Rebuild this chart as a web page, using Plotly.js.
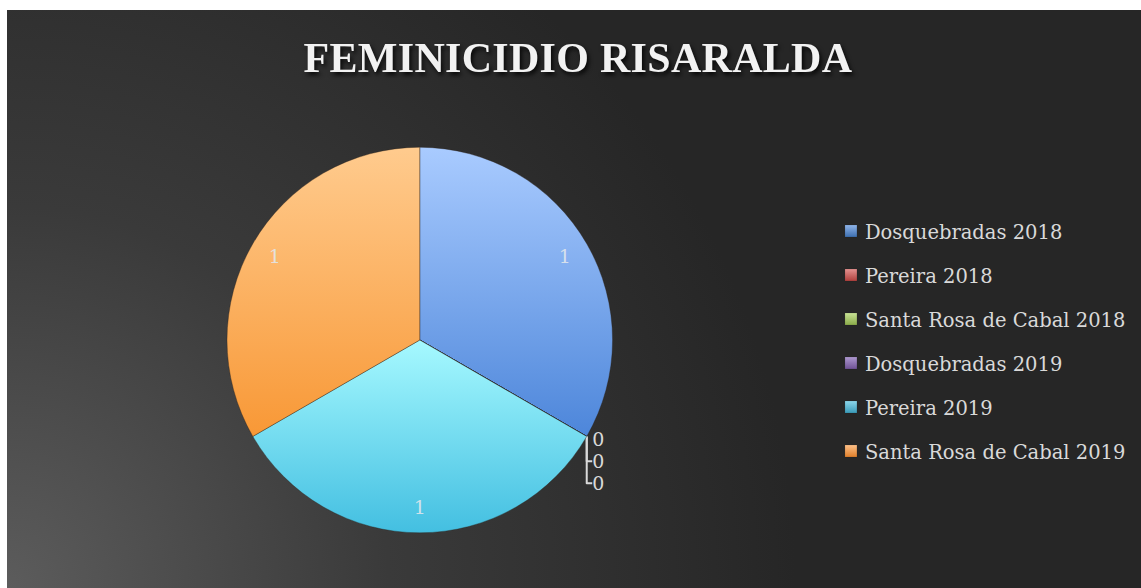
<!DOCTYPE html>
<html>
<head>
<meta charset="utf-8">
<script src="https://cdn.plot.ly/plotly-3.0.1.min.js"></script>
<style>
  html, body { margin: 0; padding: 0; background: #ffffff; }
  #chart {
    position: absolute; left: 7px; top: 10px; width: 1134px; height: 578px;
    background: radial-gradient(circle at 0% 100%, #5c5c5c 0%, #3a3a3a 30%, #262626 62%, #262626 100%);
  }
  #chart .gtitle { letter-spacing: 0.3px; filter: drop-shadow(2px 3px 2px rgba(0,0,0,0.8)); }
</style>
</head>
<body>
<div id="chart"></div>
<script>
const labels = ["Dosquebradas 2018", "Pereira 2018", "Santa Rosa de Cabal 2018", "Dosquebradas 2019", "Pereira 2019", "Santa Rosa de Cabal 2019"];
const values = [1, 0, 0, 0, 1, 1];
const colors = ["#7aa8f0", "#d86a68", "#b3d078", "#9a80c2", "#7fdcf3", "#fdb062"];
const textPositions = ["inside", "outside", "outside", "outside", "inside", "inside"];
// gradient styling (top, bottom) for slices and legend swatches
const sliceGradients = [["#a9cbff", "#4d86da"], ["#f0a09e", "#b8403d"], ["#d2eca0", "#8fb24a"], ["#c2aee0", "#7458a0"], ["#a6f9ff", "#43bfe1"], ["#ffcb8e", "#f89836"]];
const swatchGradients = [["#8fb4e8", "#3d6fb0"], ["#e59290", "#b0403d"], ["#c8e295", "#8aab49"], ["#ad98cf", "#6f5295"], ["#8cd6ea", "#3a9ab8"], ["#fcc088", "#e07f2a"]];

const trace = {
  type: "pie",
  labels: labels,
  values: values,
  sort: false,
  direction: "clockwise",
  rotation: 0,
  textinfo: "value",
  textposition: textPositions,
  insidetextorientation: "horizontal",
  marker: { colors: colors, line: { color: "rgba(40,30,20,0.35)", width: 1 } },
  textfont: { family: "DejaVu Serif", size: 19, color: "rgba(225,230,236,0.9)" },
  outsidetextfont: { family: "DejaVu Serif", size: 19, color: "#d9d9d9" },
  domain: { x: [0.194, 0.534], y: [0.095, 0.763] },
  hoverinfo: "label+value",
  automargin: false
};

const layout = {
  width: 1134, height: 578,
  margin: { l: 0, r: 0, t: 0, b: 0 },
  paper_bgcolor: "rgba(0,0,0,0)",
  plot_bgcolor: "rgba(0,0,0,0)",
  showlegend: true,
  title: {
    text: "<b>FEMINICIDIO RISARALDA</b>",
    font: { family: "Liberation Serif", size: 42, color: "#f2f2f2" },
    x: 0.5035, xanchor: "center", y: 0.918, yanchor: "middle"
  },
  legend: {
    x: 0.7213, xanchor: "left", y: 0.58, yanchor: "middle",
    font: { family: "DejaVu Serif", size: 19.5, color: "#d9d9d9" },
    bgcolor: "rgba(0,0,0,0)", itemwidth: 30
  }
};

function makeGradient(defs, id, top, bottom) {
  const ns = "http://www.w3.org/2000/svg";
  const g = document.createElementNS(ns, "linearGradient");
  g.setAttribute("id", id);
  g.setAttribute("x1", "0"); g.setAttribute("y1", "0");
  g.setAttribute("x2", "0"); g.setAttribute("y2", "1");
  [[0, top], [1, bottom]].forEach(function (s) {
    const st = document.createElementNS(ns, "stop");
    st.setAttribute("offset", s[0]);
    st.setAttribute("stop-color", s[1]);
    g.appendChild(st);
  });
  defs.appendChild(g);
}

Plotly.newPlot("chart", [trace], layout, { displayModeBar: false, staticPlot: true }).then(function (gd) {
  const svg = gd.querySelector("svg.main-svg");
  const ns = "http://www.w3.org/2000/svg";
  let defs = svg.querySelector("defs");
  if (!defs) { defs = document.createElementNS(ns, "defs"); svg.insertBefore(defs, svg.firstChild); }
  sliceGradients.forEach(function (c, i) { makeGradient(defs, "sg" + i, c[0], c[1]); });
  swatchGradients.forEach(function (c, i) { makeGradient(defs, "lg" + i, c[0], c[1]); });

  // slice gradients
  const slices = gd.querySelectorAll(".pielayer .slice");
  slices.forEach(function (s, i) {
    const p = s.querySelector("path.surface");
    if (p) p.style.fill = "url(#sg" + i + ")";
  });

  // move inside value labels outward, as in the original
  const cd0 = gd.calcdata[0][0];
  const box = gd.getBoundingClientRect();
  slices.forEach(function (s, i) {
    if (textPositions[i] !== "inside") return;
    const t = s.querySelector("g.slicetext");
    if (!t) return;
    const r = t.getBoundingClientRect();
    const cx = r.left + r.width / 2 - box.left;
    const cy = r.top + r.height / 2 - box.top;
    const ox = cx - cd0.cx, oy = cy - cd0.cy;
    const k = 1.62;
    const dx = ox * (k - 1), dy = oy * (k - 1);
    t.setAttribute("transform", "translate(" + dx + "," + dy + ") " + (t.getAttribute("transform") || ""));
  });

  // spread legend entries like the original (about 44px apart)
  const legend = gd.querySelector(".legend");
  const items = gd.querySelectorAll(".legend .traces");
  items.forEach(function (el, i) {
    const m = (el.getAttribute("transform") || "").match(/translate\(([^,]+),\s*([^)]+)\)/);
    const x = m ? parseFloat(m[1]) : 0;
    el.setAttribute("transform", "translate(" + x + "," + (i * 44) + ")");
    const pts = el.querySelector(".legendpoints");
    if (pts) pts.setAttribute("transform", "translate(6,0)");
    const sym = el.querySelector(".legendpoints path");
    if (sym) { sym.style.fill = "url(#lg" + i + ")"; sym.style.stroke = "rgba(0,0,0,0.3)"; }
  });
  const lm = legend.getAttribute("transform").match(/translate\(([^,]+),\s*([^)]+)\)/);
  legend.setAttribute("transform", "translate(" + lm[1] + ",221)");
  const sb = legend.querySelector(".scrollbox");
  if (sb) sb.removeAttribute("clip-path");
  legend.removeAttribute("clip-path");
  const bg = legend.querySelector(".bg");
  if (bg) bg.setAttribute("height", 300);
});
</script>
</body>
</html>
